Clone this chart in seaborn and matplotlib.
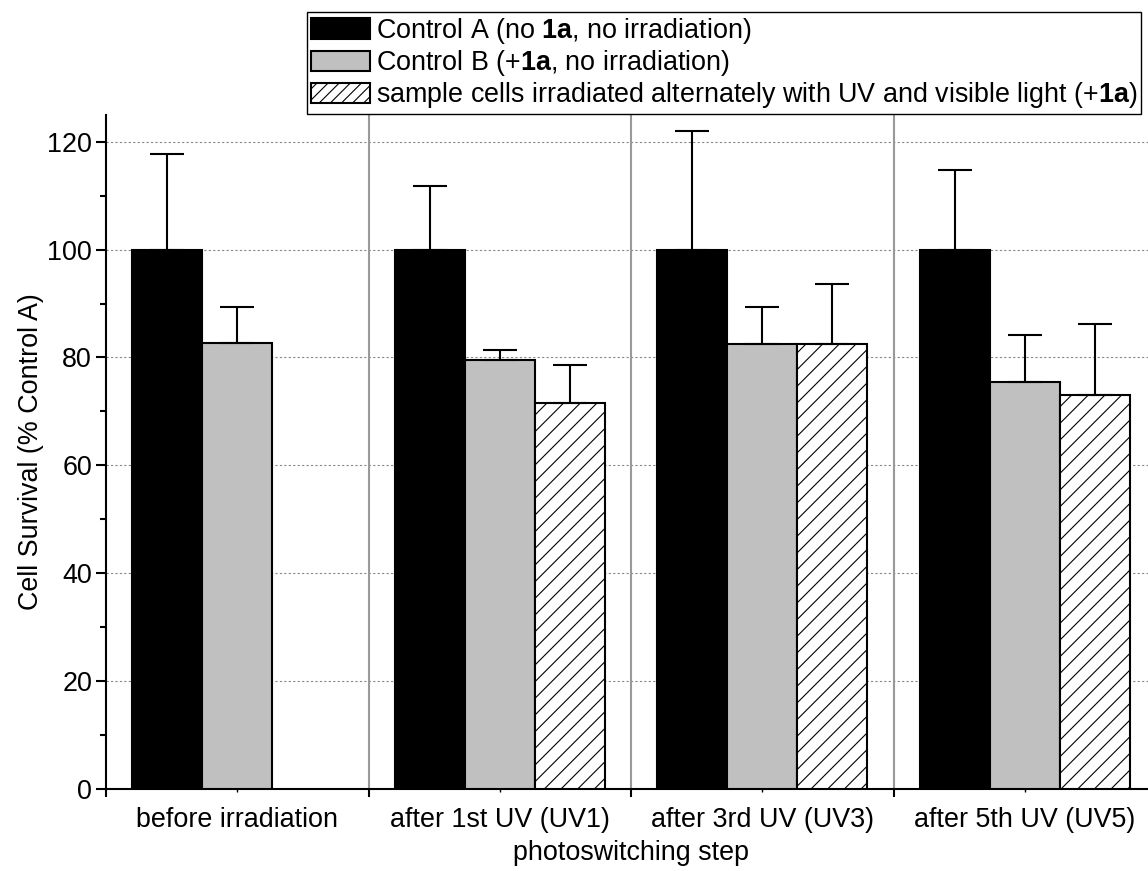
import numpy as np
import pandas as pd
import matplotlib
matplotlib.use("Agg")
import matplotlib.pyplot as plt
from matplotlib.patches import Patch
from matplotlib.ticker import MultipleLocator, FixedLocator
import seaborn as sns

# ── Data ────────────────────────────────────────────────────────────────────
steps = ["before irradiation", "after 1st UV (UV1)", "after 3rd UV (UV3)", "after 5th UV (UV5)"]
groups = ["Control A", "Control B", "Sample"]

control_a = [100.0, 100.0, 100.0, 100.0]
control_a_err = [17.7, 11.9, 22.1, 14.8]
control_b = [82.7, 79.5, 82.5, 75.4]
control_b_err = [6.7, 1.8, 6.9, 8.7]
sample = [np.nan, 71.5, 82.5, 73.1]
sample_err = [np.nan, 7.1, 11.2, 13.2]

legend_labels = [
    r"Control A (no $\mathbf{1a}$, no irradiation)",
    r"Control B (+$\mathbf{1a}$, no irradiation)",
    r"sample cells irradiated alternately with UV and visible light (+$\mathbf{1a}$)",
]

rows = []
for g, vals, errs in zip(groups, [control_a, control_b, sample],
                         [control_a_err, control_b_err, sample_err]):
    for s, v, e in zip(steps, vals, errs):
        if not np.isnan(v):
            rows.append({"step": s, "group": g, "value": v, "err": e})
df = pd.DataFrame(rows)

# ── Style ───────────────────────────────────────────────────────────────────
sns.set_style("ticks")
plt.rcParams["font.family"] = ["Liberation Sans", "DejaVu Sans"]
plt.rcParams["mathtext.fontset"] = "custom"
plt.rcParams["mathtext.rm"] = "Liberation Sans"
plt.rcParams["mathtext.bf"] = "Liberation Sans:bold"
plt.rcParams["hatch.linewidth"] = 0.8
for key in ["text.color", "axes.labelcolor", "xtick.color", "ytick.color"]:
    plt.rcParams[key] = "black"
FS = 19.4

palette = {"Control A": "black", "Control B": "#c0c0c0", "Sample": "white"}

fig = plt.figure(figsize=(11.48, 8.71), dpi=100)
ax = fig.add_axes([106 / 1148, 82.5 / 871, 1050 / 1148, 673.5 / 871])

sns.barplot(data=df, x="step", y="value", hue="group", order=steps, hue_order=groups,
            palette=palette, edgecolor="black", linewidth=1.5, width=0.8,
            errorbar=None, legend=False, saturation=1, ax=ax, zorder=3)

# hatch + error bars, per hue container
for cont, g in zip(ax.containers, groups):
    sub = df[df["group"] == g].set_index("step")
    for bar in cont:
        xc = bar.get_x() + bar.get_width() / 2
        step = steps[int(round(xc))]
        if g == "Sample":
            bar.set_hatch("//")
        if step in sub.index:
            ax.errorbar(xc, bar.get_height(), yerr=[[0], [sub.loc[step, "err"]]],
                        fmt="none", ecolor="black", elinewidth=1.5,
                        capsize=12, capthick=1.5, zorder=4)

# ── Axes ────────────────────────────────────────────────────────────────────
ax.set_xlim(-0.5, 3.5)
ax.set_ylim(0, 125)
ax.yaxis.set_major_locator(MultipleLocator(20))
ax.yaxis.set_minor_locator(MultipleLocator(10))
ax.xaxis.set_minor_locator(FixedLocator([-0.5, 0.5, 1.5, 2.5, 3.5]))

for y in range(20, 121, 20):
    ax.axhline(y, color="#888888", linestyle=(0, (2, 2)), linewidth=0.8, zorder=1)
for x in [0.5, 1.5, 2.5]:
    ax.axvline(x, color="#999999", linewidth=1.5, zorder=1)

sns.despine(ax=ax, top=True, right=True)
for sp in ["left", "bottom"]:
    ax.spines[sp].set_linewidth(1.5)
    ax.spines[sp].set_color("black")

ax.tick_params(axis="y", which="major", length=7, width=1.5, labelsize=FS, pad=3)
ax.tick_params(axis="y", which="minor", length=4, width=1.5)
ax.tick_params(axis="x", which="major", length=2, width=1.0, labelsize=FS, pad=11)
ax.tick_params(axis="x", which="minor", length=6, width=1.5)

ax.set_xlabel("photoswitching step", fontsize=FS, labelpad=5)
ax.set_ylabel("Cell Survival (% Control A)", fontsize=FS, labelpad=2)

# ── Legend ──────────────────────────────────────────────────────────────────
handles = [
    Patch(facecolor="black", edgecolor="black", linewidth=1.5),
    Patch(facecolor="#c0c0c0", edgecolor="black", linewidth=1.5),
    Patch(facecolor="white", edgecolor="black", linewidth=1.5, hatch="///"),
]
leg = fig.legend(handles, legend_labels, loc="upper left",
                 bbox_to_anchor=(307 / 1148, 1 - 12 / 871), fontsize=FS,
                 frameon=True, fancybox=False, edgecolor="black", framealpha=1,
                 borderpad=0.15, handlelength=2.2, handleheight=0.8,
                 handletextpad=0.2, labelspacing=0.08, borderaxespad=0)
leg.get_frame().set_linewidth(1.0)

fig.savefig("out.png", dpi=100)
